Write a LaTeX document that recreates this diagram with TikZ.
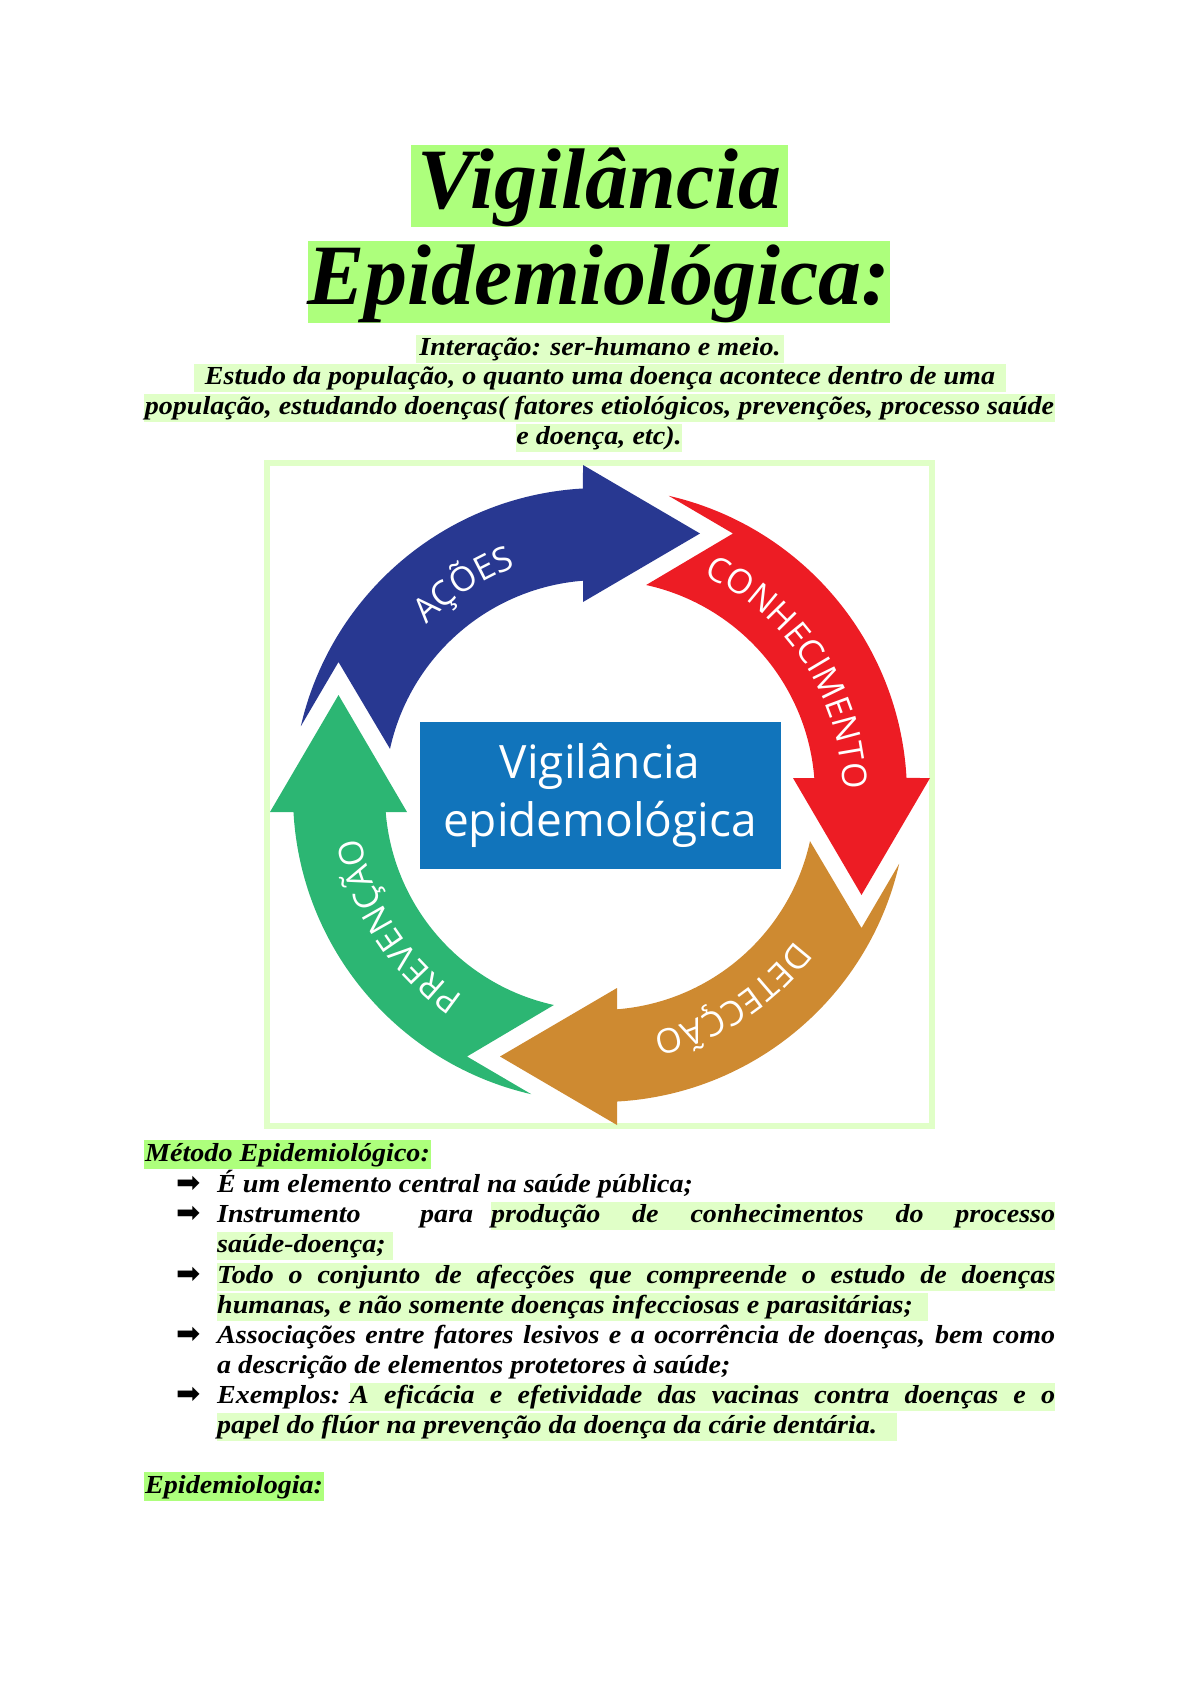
\documentclass[tikz,border=0pt]{standalone}
\usepackage{fontspec}
\setmainfont{Liberation Serif}
\newfontfamily\bodyfam[FakeStretch=1.08]{Liberation Serif}
\newfontfamily\ringfont{Open Sans}
\newfontfamily\arrowfont{DejaVu Sans}
\usepackage{tikz}
\usetikzlibrary{positioning,decorations.text}

\definecolor{hlbright}{HTML}{ADFF7C}
\definecolor{hlpale}{HTML}{E0FFC7}
\definecolor{acoesblue}{HTML}{283891}
\definecolor{conhecred}{HTML}{ED1C24}
\definecolor{detecorange}{HTML}{CE8A31}
\definecolor{prevgreen}{HTML}{2CB673}
\definecolor{boxblue}{HTML}{1174BB}

\newcommand{\titlefont}{\fontsize{86}{100}\selectfont\bfseries\itshape}
\newcommand{\bodyfont}{\bodyfam\fontsize{26}{30}\selectfont\bfseries\itshape}
\newcommand{\ringsize}{\fontsize{34}{40}\selectfont}

\tikzstyle{titlebox} = [fill=hlbright, inner sep=0pt, text height=63pt,
	text depth=19pt, font=\titlefont, anchor=base]
\tikzstyle{hlline} = [fill=hlpale, inner sep=0pt, text height=20pt,
	text depth=8pt, font=\bodyfont]
\tikzstyle{hlhead} = [hlline, fill=hlbright, text height=21pt, inner xsep=1pt]
\tikzstyle{plainline} = [inner sep=0pt, text height=20pt, text depth=8pt,
	font=\bodyfont]
\tikzstyle{bullet} = [inner sep=0pt, font=\arrowfont\fontsize{29}{32}\selectfont,
	anchor=base east]
\tikzstyle{centerbox} = [fill=boxblue, text=white, align=center,
	minimum width=361pt, minimum height=147pt,
	font=\ringfont\fontsize{46}{58}\selectfont]

\tikzset{
	ringlabel/.style={decorate, decoration={text along path, text align=center,
		text={|\ringfont\ringsize\color{white}|#1}}},
	cyclearrow/.pic={
		\path[pic actions] (167.07:307) arc[start angle=167.07, end angle=93.18, radius=307]
			-- (-17,330) -- (100,261.5) -- (-17,193) -- (-17,214.3)
			arc[start angle=94.53, end angle=167.6, radius=215]
			-- (-261.5,133) -- cycle;
	}
}

\begin{document}
\begin{tikzpicture}[x=1pt, y=1pt]
	\useasboundingbox (0,0) rectangle (1200,-1697);

	% Title
	\node [titlebox, minimum width=377pt] (title1) at (599.5,-208) {Vigilância};
	\node [titlebox, minimum width=572pt] (title2) at (599,-304) {Epidemiológica:};

	% Subtitle
	\node [hlline, anchor=base] (sub1) at (600,-355) {\makebox[368pt]{Interação: ser-humano e meio.}};
	\node [hlline, anchor=base] (sub2) at (600,-384) {\makebox[812pt]{Estudo da população, o quanto uma doença acontece dentro de uma}};
	\node [hlline, anchor=base] (sub3) at (599.5,-414) {\makebox[911pt]{população, estudando doenças( fatores etiológicos, prevenções, processo saúde}};
	\node [hlline, anchor=base] (sub4) at (599,-444) {\makebox[166pt]{e doença, etc).}};

	% Cycle picture
	\node [draw=hlpale, line width=6pt, minimum width=665pt, minimum height=663pt] (frame) at (599.5,-794.5) {};
	\begin{scope}[shift={(600,-795)}]
		\pic [fill=acoesblue] {cyclearrow};
		\pic [fill=conhecred, rotate=-90] {cyclearrow};
		\pic [fill=detecorange, rotate=-180] {cyclearrow};
		\pic [fill=prevgreen, rotate=-270] {cyclearrow};
		\path [ringlabel=AÇÕES] (160:243) arc[start angle=160, end angle=86, radius=243];
		\path [ringlabel=CONHECIMENTO] (72:243) arc[start angle=72, end angle=-6, radius=243];
		\path [ringlabel=DETECÇÃO] (-18:243) arc[start angle=-18, end angle=-96, radius=243];
		\path [ringlabel=PREVENÇÃO] (-108:243) arc[start angle=-108, end angle=-186, radius=243];
	\end{scope}
	\node [centerbox] (vigbox) at (600,-795) {Vigilância\\epidemológica};

	% Metodo
	\node [hlhead, anchor=base west] (metodo) at (144,-1161) {Método Epidemiológico:};

	\node [plainline, anchor=base west] (b1) at (217,-1192) {É um elemento central na saúde pública;};
	\node [bullet] (arr1) at ([xshift=-16pt]b1.base west) {➡};

	\node [plainline, anchor=base west] (b2) at (217,-1222) {Instrumento};
	\node [plainline, anchor=base west] (b2para) at (420,-1222) {para};
	\node [hlline, anchor=base west] (b2hl) at (491,-1222) {\makebox[564pt][s]{produção de conhecimentos do processo}};
	\node [bullet] (arr2) at ([xshift=-16pt]b2.base west) {➡};
	\node [hlline, anchor=base west] (b2b) at (217,-1252) {\makebox[176pt][l]{saúde-doença;}};

	\node [hlline, anchor=base west] (b3) at (217,-1283) {\makebox[838pt][s]{Todo o conjunto de afecções que compreende o estudo de doenças}};
	\node [bullet] (arr3) at ([xshift=-16pt]b3.base west) {➡};
	\node [hlline, anchor=base west] (b3b) at (217,-1313) {\makebox[711pt][l]{humanas, e não somente doenças infecciosas e parasitárias;}};

	\node [plainline, anchor=base west] (b4) at (217,-1343) {\makebox[838pt][s]{Associações entre fatores lesivos e a ocorrência de doenças, bem como}};
	\node [bullet] (arr4) at ([xshift=-16pt]b4.base west) {➡};
	\node [plainline, anchor=base west] (b4b) at (217,-1373) {a descrição de elementos protetores à saúde;};

	\node [plainline, anchor=base west] (b5) at (217,-1403) {Exemplos:};
	\node [hlline, anchor=base west] (b5hl) at (350,-1403) {\makebox[705pt][s]{A eficácia e efetividade das vacinas contra doenças e o}};
	\node [bullet] (arr5) at ([xshift=-16pt]b5.base west) {➡};
	\node [hlline, anchor=base west] (b5b) at (217,-1433) {\makebox[680pt][l]{papel do flúor na prevenção da doença da cárie dentária.}};

	% Epidemiologia
	\node [hlhead, anchor=base west] (epid) at (144,-1493) {Epidemiologia:};
\end{tikzpicture}
\end{document}
